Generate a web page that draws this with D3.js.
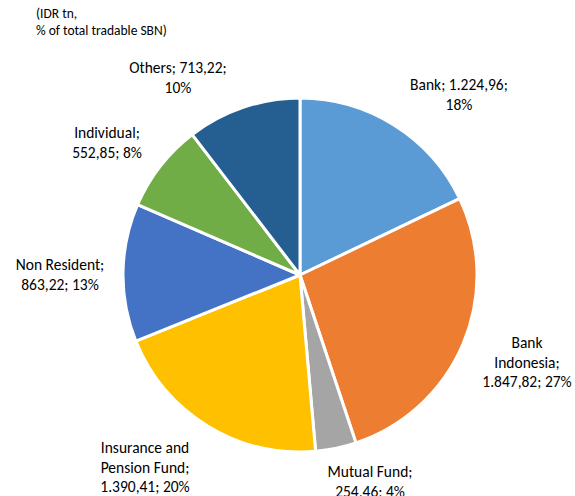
<!DOCTYPE html>
<html><head><meta charset="utf-8">
<script src="https://cdn.jsdelivr.net/npm/d3@7"></script>
<style>body{margin:0;background:#fff}svg{display:block}text{font-family:Carlito,Calibri,Lato,"Open Sans",sans-serif;fill:#000}</style>
</head><body>
<svg id="c" width="575" height="496"></svg>
<script>
const categories = ["Bank","Bank Indonesia","Mutual Fund","Insurance and Pension Fund","Non Resident","Individual","Others"];
const values = [1224.96, 1847.82, 254.46, 1390.41, 863.22, 552.85, 713.22];
const percents = ["18%","27%","4%","20%","13%","8%","10%"];
const valueLabels = ["1.224,96","1.847,82","254,46","1.390,41","863,22","552,85","713,22"];
const labelLines = [
  ["Bank; 1.224,96;","18%"],
  ["Bank","Indonesia;","1.847,82; 27%"],
  ["Mutual Fund;","254,46; 4%"],
  ["Insurance and","Pension Fund;","1.390,41; 20%"],
  ["Non Resident;","863,22; 13%"],
  ["Individual;","552,85; 8%"],
  ["Others; 713,22;","10%"]
];
const colors = ["#5B9BD5","#ED7D31","#A5A5A5","#FFC000","#4472C4","#70AD47","#255E91"];

// layout (label anchors: center x, first baseline y)
const labelPos = [[459,90],[527,348],[370,477],[145,453],[60,270],[107,138],[178,73]];
const cx = 300, cy = 275, r = 177;

const svg = d3.select("#c");
const g = svg.append("g").attr("transform",`translate(${cx},${cy})`);
const pie = d3.pie().sort(null).value(d=>d)(values);
const arc = d3.arc().innerRadius(0).outerRadius(r);
g.selectAll("path").data(pie).join("path")
  .attr("d",arc).attr("fill",(d,i)=>colors[i])
  .attr("stroke","#fff").attr("stroke-width",3).attr("stroke-linejoin","round");

const lg = svg.append("g");
labelLines.forEach((lines,i)=>{
  const t = lg.append("text").attr("text-anchor","middle").attr("font-size",15.5);
  lines.forEach((s,j)=>t.append("tspan").attr("x",labelPos[i][0]).attr("y",labelPos[i][1]+j*19.5).text(s));
});
const title = svg.append("text").attr("font-size",13.5);
title.append("tspan").attr("x",36).attr("y",18).text("(IDR tn,");
title.append("tspan").attr("x",36).attr("y",35).text("% of total tradable SBN)");
</script>
</body></html>
